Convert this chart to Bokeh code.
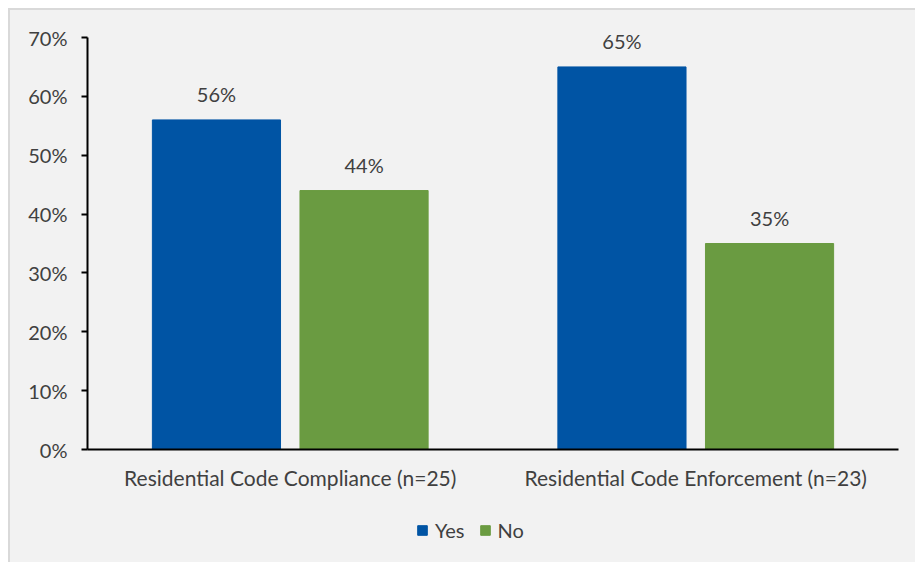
from bokeh.plotting import figure
from bokeh.layouts import column
from bokeh.models import ColumnDataSource, Legend, LegendItem, NumeralTickFormatter, FixedTicker, FactorRange, Range1d
from bokeh.transform import dodge
from bokeh.embed import file_html
from bokeh.resources import INLINE
from bokeh.core.properties import value

categories = ["Residential Code Compliance (n=25)", "Residential Code Enforcement (n=23)"]
yes_vals = [0.56, 0.65]
no_vals = [0.44, 0.35]
yes_labels = ["56%", "65%"]
no_labels = ["44%", "35%"]
y_ticks = [0, 0.1, 0.2, 0.3, 0.4, 0.5, 0.6, 0.7]
series_names = ["Yes", "No"]

FONT = "Lato"
FS = "20px"
FS_CAT = "21px"
TXT = "#404040"
BLUE = "#0054A4"
GREEN = "#6A9B41"
BG = "#F2F2F2"

src = ColumnDataSource(dict(cat=categories, yes=yes_vals, no=no_vals, yl=yes_labels, nl=no_labels))

# frame extends a little above 70% so the top data label is not clipped
p = figure(x_range=FactorRange(*categories, range_padding=0), y_range=Range1d(0, 0.7289),
           width=905, height=492, output_backend="svg", toolbar_location=None,
           min_border_left=77, min_border_top=10, min_border_right=17, min_border_bottom=53)
p.background_fill_color = BG
p.border_fill_color = BG
p.outline_line_color = None
p.grid.visible = False

w = 0.316
off = 0.182
p.vbar(x=dodge("cat", -off, range=p.x_range), top="yes", width=w, source=src, color=BLUE)
p.vbar(x=dodge("cat", off, range=p.x_range), top="no", width=w, source=src, color=GREEN)

for col, lab, o in (("yes", "yl", -off), ("no", "nl", off)):
    p.text(x=dodge("cat", o, range=p.x_range), y=col, text=lab, source=src,
           text_align="center", text_baseline="bottom", y_offset=-14,
           text_font=value(FONT), text_font_size=FS, text_color=TXT)

p.yaxis.ticker = FixedTicker(ticks=y_ticks)
p.yaxis.bounds = (0, 0.7)
p.yaxis.formatter = NumeralTickFormatter(format="0%")
p.yaxis.minor_tick_line_color = None
p.yaxis.major_tick_out = 6
p.yaxis.major_tick_in = 0
p.yaxis.major_tick_line_width = 2
p.yaxis.axis_line_width = 2
p.yaxis.axis_line_color = "black"
p.yaxis.major_tick_line_color = "black"
p.yaxis.major_label_standoff = 14
p.yaxis.major_label_text_font = FONT
p.yaxis.major_label_text_font_size = FS
p.yaxis.major_label_text_color = TXT

p.xaxis.axis_line_width = 2
p.xaxis.axis_line_color = "black"
p.xaxis.major_tick_line_color = None
p.xaxis.minor_tick_line_color = None
p.xaxis.major_label_standoff = 9
p.xaxis.major_label_text_font = FONT
p.xaxis.major_label_text_font_size = FS_CAT
p.xaxis.major_label_text_color = TXT

# legend strip below the chart
lp = figure(width=905, height=60, output_backend="svg", toolbar_location=None,
            x_range=Range1d(0, 1), y_range=Range1d(0, 1),
            x_axis_location=None, y_axis_location=None, min_border=0)
lp.grid.visible = False
lp.outline_line_color = None
lp.background_fill_color = BG
lp.border_fill_color = BG
# swatch-only renderers, kept outside the visible range of the legend strip
swatch = ColumnDataSource(dict(x=[-5], top=[-5]))
ly = lp.vbar(x="x", top="top", width=0.1, source=swatch, color=BLUE)
ln = lp.vbar(x="x", top="top", width=0.1, source=swatch, color=GREEN)
legend = Legend(items=[LegendItem(label=series_names[0], renderers=[ly]),
                       LegendItem(label=series_names[1], renderers=[ln])],
                orientation="horizontal", location=(329, 20),
                label_text_font=FONT, label_text_font_size=FS, label_text_color=TXT,
                glyph_width=12, glyph_height=12, spacing=14, label_standoff=7,
                background_fill_alpha=0, border_line_color=None, margin=0, padding=0)
lp.add_layout(legend, "center")

layout = column(p, lp, spacing=0, margin=(8, 0, 0, 8),
                styles={"border-top": "2px solid #d9d9d9", "border-left": "2px solid #d9d9d9",
                        "background-color": BG})

open("out.html", "w").write(file_html(layout, INLINE))
